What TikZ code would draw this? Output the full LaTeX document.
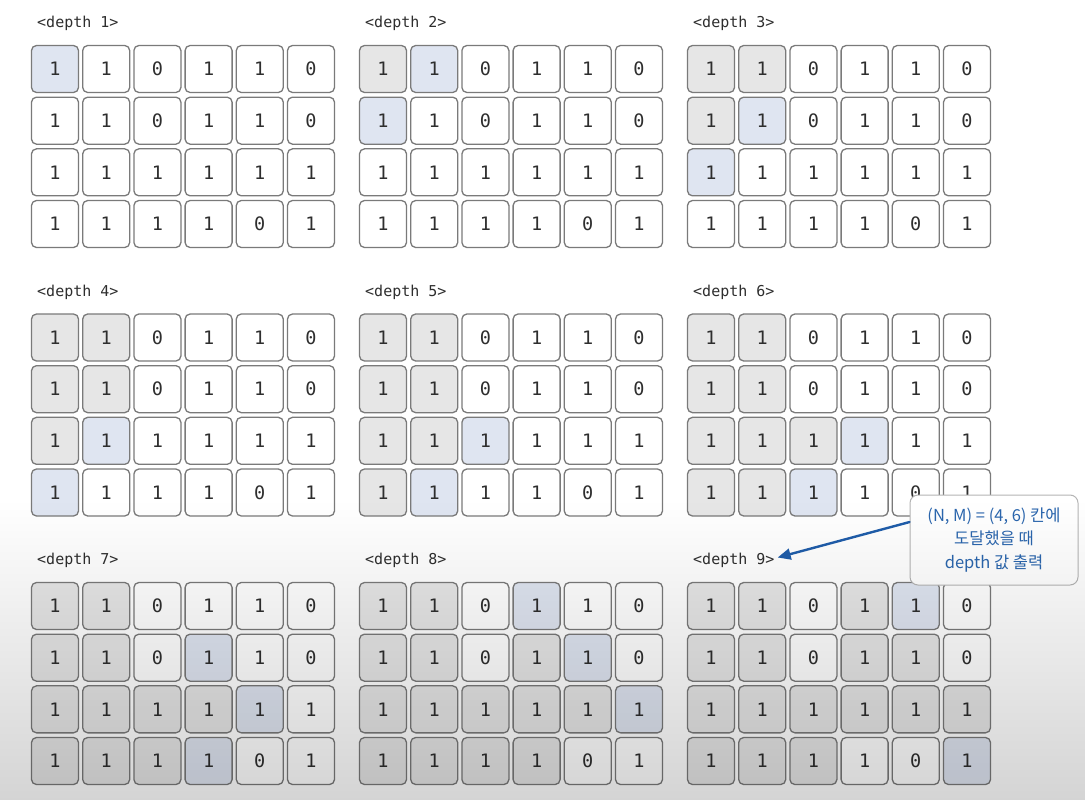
\documentclass[tikz,border=0pt]{standalone}
\usepackage{fontspec}
\setmonofont{DejaVu Sans Mono}
\newfontfamily\krfont{Noto Sans CJK KR}
\usetikzlibrary{arrows.meta,fadings}
\definecolor{cell0}{HTML}{FFFFFF}
\definecolor{cell1}{HTML}{E6E6E6}
\definecolor{cell2}{HTML}{DFE5F1}
\definecolor{cellline}{HTML}{7A7A7A}
\definecolor{digit}{HTML}{2E2E2E}
\definecolor{notetext}{HTML}{2B66AE}
\definecolor{noteline}{HTML}{B4B4B4}
\definecolor{arrowblue}{HTML}{1F5DAA}
\tikzset{
  cell/.style={draw=cellline,line width=1.3pt,rounded corners=5pt,
    minimum width=47pt,minimum height=47pt,inner sep=0pt,
    font=\ttfamily\fontsize{18.5}{18.5}\selectfont,text=digit},
  depthlabel/.style={anchor=west,inner sep=1pt,
    font=\ttfamily\fontsize{15}{16}\selectfont,text=digit},
  notebox/.style={draw=noteline,fill=white,line width=1pt,rounded corners=8pt,
    minimum width=168pt,minimum height=90pt,align=center,text=notetext,
    font=\krfont\fontsize{16.5}{23.5}\selectfont},
  callarrow/.style={draw=arrowblue,line width=2.4pt,
    -{Triangle[length=13pt,width=11pt]}}
}
\begin{document}
\begin{tikzpicture}[x=1pt,y=-1pt,line cap=round,line join=round]
  \fill[white] (0,0) rectangle (1086,800);
  \useasboundingbox (0,0) rectangle (1086,800);

  \foreach \k in {1,...,9} {
    \pgfmathsetmacro\gx{55+328*mod(\k-1,3)}
    \pgfmathsetmacro\gy{69+268.5*int((\k-1)/3)}
    \node[depthlabel] (lbl\k) at (\gx-19,\gy-45.5) {<depth \k>};
    \foreach \r [count=\i] in {{1/1,1/2,0/0,1/8,1/9,0/0},{1/2,1/3,0/0,1/7,1/8,0/0},
        {1/3,1/4,1/5,1/6,1/7,1/8},{1/4,1/5,1/6,1/7,0/0,1/9}} {
      \foreach \v/\d [count=\j] in \r {
        \pgfmathtruncatemacro\st{\d==0 ? 0 : (\d<\k ? 1 : (\d==\k ? 2 : 0))}
        \ifnum\k\i\j=944 \def\st{0}\fi
        \node[cell,fill=cell\st] (c\k-\i-\j) at (\gx+51.2*\j-51.2,\gy+51.67*\i-51.67) {\v};
      }
    }
  }

  \node[notebox] (note) at (994,540) {(N, M) = (4, 6) 칸에\\도달했을 때\\depth 값 출력};
  \draw[callarrow] (note.168) -- ([xshift=2pt,yshift=3pt]lbl9.east);

  \fill[black,fill opacity=0.17,path fading=north] (0,500) rectangle (1086,800);
\end{tikzpicture}
\end{document}
